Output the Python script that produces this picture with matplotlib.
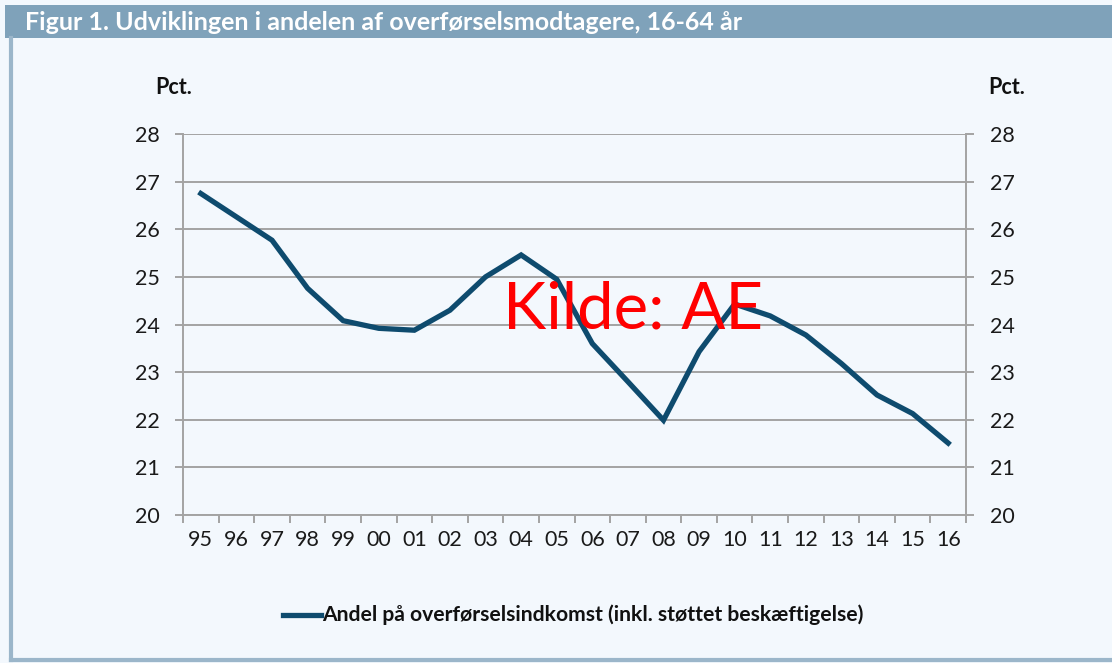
import numpy as np
import matplotlib.pyplot as plt
from matplotlib.patches import Rectangle
from matplotlib.lines import Line2D

years = ['95', '96', '97', '98', '99', '00', '01', '02', '03', '04', '05',
         '06', '07', '08', '09', '10', '11', '12', '13', '14', '15', '16']
andel = [26.75, 26.26, 25.77, 24.76, 24.08, 23.92, 23.88, 24.30, 25.00, 25.46, 24.95,
         23.60, 22.80, 21.99, 23.43, 24.43, 24.18, 23.78, 23.18, 22.52, 22.13, 21.51]
yticks = [20, 21, 22, 23, 24, 25, 26, 27, 28]

title = 'Figur 1. Udviklingen i andelen af overførselsmodtagere, 16-64 år'
legend_label = 'Andel på overførselsindkomst (inkl. støttet beskæftigelse)'

bg = '#F3F8FD'
navy = '#0E4B6E'
grey = '#A3A3A3'
font = ['Lato', 'DejaVu Sans']

fig = plt.figure(figsize=(11.12, 6.63), dpi=100, facecolor=bg)
ax = fig.add_axes([0.1646, 0.2232, 0.8687 - 0.1646, 0.7979 - 0.2232])
ax.set_facecolor(bg)

x = np.arange(len(years))
ax.plot(x, andel, color=navy, lw=3.8, solid_joinstyle='miter', zorder=3)

ax.set_xlim(-0.5, len(years) - 0.5)
ax.set_ylim(20, 28)
ax.set_yticks(yticks)
ax.set_yticklabels([str(v) for v in yticks], fontsize=15.5, family=font, color='#1A1A1A')
ax.set_xticks(x)
ax.set_xticklabels(years, fontsize=15.5, family=font, color='#1A1A1A')
ax.set_xticks(np.arange(-0.5, len(years)), minor=True)
ax.tick_params(axis='x', which='major', length=0, pad=11)
ax.tick_params(axis='x', which='minor', length=6, width=1.4, color=grey, direction='out')
ax.tick_params(axis='y', which='major', length=6, width=1.4, color=grey,
               left=True, right=True, labelleft=True, labelright=True, pad=11)

ax.grid(axis='y', color=grey, lw=1.4, zorder=1)
ax.spines['top'].set_visible(False)
for s in ['left', 'right', 'bottom']:
    ax.spines[s].set_color(grey)
    ax.spines[s].set_linewidth(1.4)

fig.text(155 / 1112, 1 - 87 / 663, 'Pct.', fontsize=15.5, fontweight='bold',
         family=font, va='center', ha='left', color='#111111')
fig.text(988 / 1112, 1 - 87 / 663, 'Pct.', fontsize=15.5, fontweight='bold',
         family=font, va='center', ha='left', color='#111111')

# legend drawn by hand below the axis
fig.add_artist(Line2D([283 / 1112, 321 / 1112], [1 - 615 / 663] * 2, color=navy, lw=3.8))
fig.text(322 / 1112, 1 - 615 / 663, legend_label, fontsize=15.2, fontweight='bold',
         family=font, va='center', ha='left', color='#111111')

# title bar and frame
fig.patches.append(Rectangle((5 / 1112, 1 - 38 / 663), 1, 33 / 663,
                             transform=fig.transFigure, facecolor='#7FA2BA',
                             edgecolor='none', zorder=0))
fig.text(25 / 1112, 1 - 22 / 663, title, fontsize=18, fontweight='bold',
         family=font, va='center', ha='left', color='white')
fig.add_artist(Line2D([11 / 1112, 11 / 1112], [3 / 663, 1 - 38 / 663], color='#9BB6CA', lw=3))
fig.add_artist(Line2D([11 / 1112, 1], [3 / 663, 3 / 663], color='#9BB6CA', lw=3))

fig.text(633 / 1112, 1 - 310 / 663, 'Kilde: AE', fontsize=47, color='red',
         family=font, va='center', ha='center')

fig.savefig('out.png', dpi=100, facecolor=bg)
